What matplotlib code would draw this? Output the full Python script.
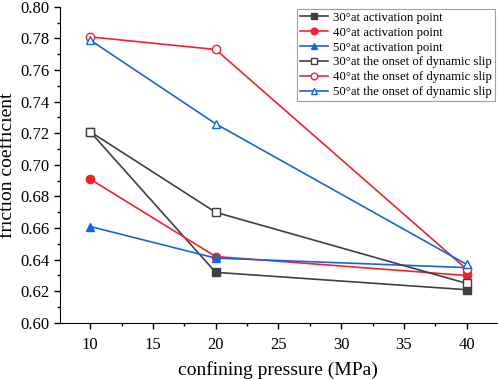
import matplotlib.pyplot as plt
from matplotlib.ticker import MultipleLocator

plt.rcParams['font.family'] = ['Liberation Serif', 'DejaVu Serif']

pressure = [10, 20, 40]

act_30 = [0.721, 0.632, 0.621]
act_40 = [0.691, 0.642, 0.630]
act_50 = [0.661, 0.641, 0.635]
onset_30 = [0.721, 0.670, 0.625]
onset_40 = [0.781, 0.773, 0.634]
onset_50 = [0.779, 0.726, 0.637]

labels = [
    '30°at activation point',
    '40°at activation point',
    '50°at activation point',
    '30°at the onset of dynamic slip',
    '40°at the onset of dynamic slip',
    '50°at the onset of dynamic slip',
]

gray = '#404040'
red = '#f5222d'
blue = '#1565e0'

fig = plt.figure(figsize=(4.98, 3.79), dpi=100)
ax = fig.add_axes([0.1205, 0.148, 0.877, 0.834])

ax.plot(pressure, act_30, color=gray, marker='s', ms=5.5, lw=1.2, label=labels[0])
ax.plot(pressure, act_40, color=red, marker='o', ms=6, lw=1.2, label=labels[1])
ax.plot(pressure, act_50, color=blue, marker='^', ms=6, lw=1.2, label=labels[2])
ax.plot(pressure, onset_30, color=gray, marker='s', ms=5.5, lw=1.2, mfc='white', label=labels[3])
ax.plot(pressure, onset_40, color=red, marker='o', ms=6, lw=1.2, mfc='white', label=labels[4])
ax.plot(pressure, onset_50, color=blue, marker='^', ms=6, lw=1.2, mfc='white', label=labels[5])

ax.set_xlim(7.6, 42.4)
ax.set_ylim(0.60, 0.80)
ax.xaxis.set_major_locator(MultipleLocator(5))
ax.xaxis.set_minor_locator(MultipleLocator(2.5))
ax.yaxis.set_major_locator(MultipleLocator(0.02))
ax.yaxis.set_minor_locator(MultipleLocator(0.01))
ax.yaxis.set_major_formatter(plt.FormatStrFormatter('%.2f'))

ax.spines['top'].set_visible(False)
ax.spines['right'].set_visible(False)
ax.tick_params(which='major', direction='out', length=4, width=1, labelsize=12)
ax.tick_params(which='minor', direction='out', length=2.5, width=1)
ax.tick_params(axis='x', pad=6)

ax.set_xlabel('confining pressure (MPa)', fontsize=14, labelpad=6)
ax.set_ylabel('friction coefficient', fontsize=14, labelpad=3)

leg = ax.legend(loc='upper right', fontsize=9.2, frameon=True, fancybox=False,
                edgecolor='#888888', handlelength=2.2, borderpad=0.25,
                labelspacing=0.22, handletextpad=0.35, borderaxespad=0.15,
                markerscale=0.8)
leg.get_frame().set_linewidth(0.8)

fig.savefig('out.png', dpi=100)
